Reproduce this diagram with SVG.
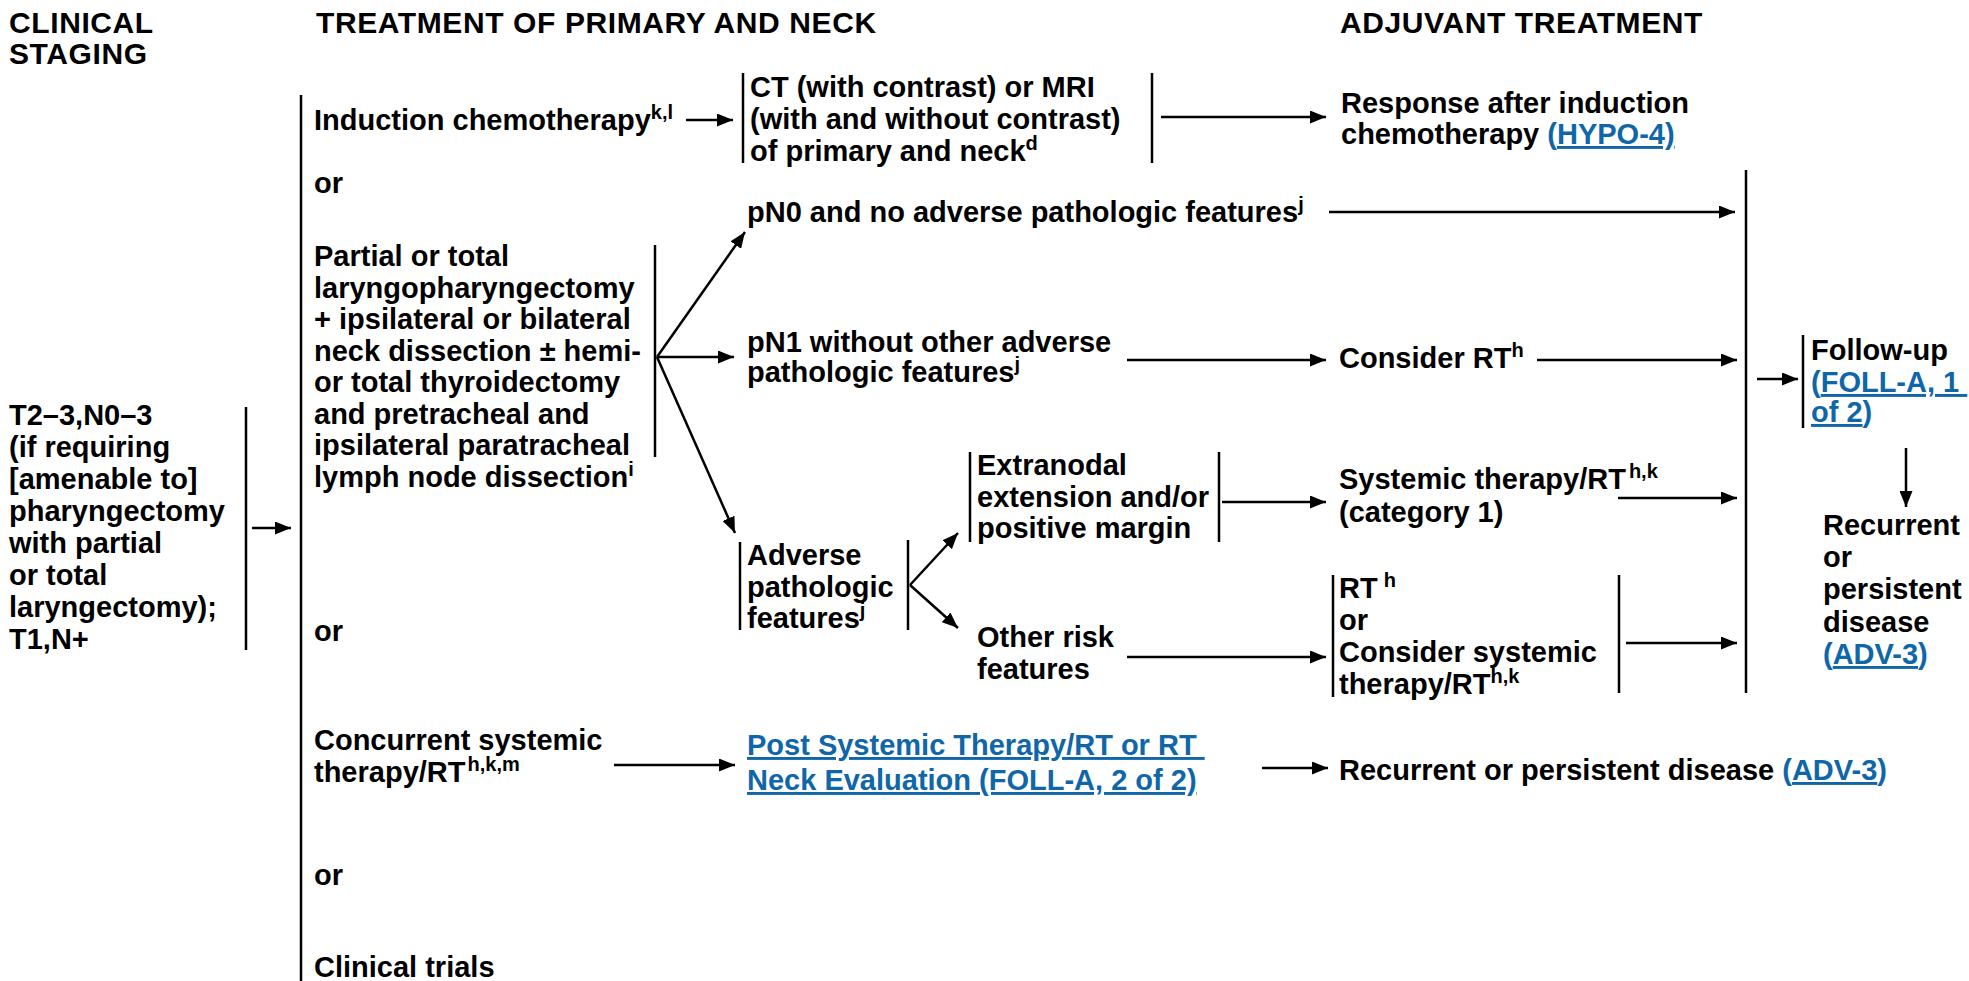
<svg xmlns="http://www.w3.org/2000/svg" width="1969" height="981" viewBox="0 0 1969 981">
<defs>
<style>
text{font-family:"Liberation Sans",Arial,Helvetica,sans-serif;font-weight:bold;font-size:29px;fill:#000}
.h{font-size:30px;letter-spacing:0.6px}
.s{font-size:20px}
.lnk{fill:#0f66a8}
.u{text-decoration:underline}
.bar{stroke:#000;stroke-width:2.5;fill:none}
.c{stroke:#000;stroke-width:2.5;fill:none;marker-end:url(#ah)}
</style>
<marker id="ah" markerUnits="userSpaceOnUse" markerWidth="16" markerHeight="13" refX="16" refY="6.5" orient="auto">
<path d="M0,0 L16,6.5 L0,13 z" fill="#000"/>
</marker>
</defs>
<rect width="1969" height="981" fill="#fff"/>

<g id="headers">
<text class="h" x="9" y="33">CLINICAL</text>
<text class="h" x="9" y="64">STAGING</text>
<text class="h" x="316" y="33">TREATMENT OF PRIMARY AND NECK</text>
<text class="h" x="1340" y="33">ADJUVANT TREATMENT</text>
</g>

<g id="staging">
<text x="9" y="425">T2–3,N0–3</text>
<text x="9" y="457">(if requiring</text>
<text x="9" y="489">[amenable to]</text>
<text x="9" y="521">pharyngectomy</text>
<text x="9" y="553">with partial</text>
<text x="9" y="585">or total</text>
<text x="9" y="617">laryngectomy);</text>
<text x="9" y="649">T1,N+</text>
<line class="bar" x1="246" y1="407" x2="246" y2="650"/>
</g>

<g id="options">
<line class="bar" x1="301" y1="95" x2="301" y2="981"/>
<text x="314" y="193">or</text>
<text x="314" y="641">or</text>
<text x="314" y="885">or</text>
</g>

<g id="induction">
<text x="314" y="130">Induction chemotherapy<tspan class="s" dy="-11">k,l</tspan></text>
</g>

<g id="ct-mri">
<line class="bar" x1="743" y1="73" x2="743" y2="163"/>
<text x="750" y="97">CT (with contrast) or MRI</text>
<text x="750" y="129">(with and without contrast)</text>
<text x="750" y="161">of primary and neck<tspan class="s" dy="-11">d</tspan></text>
<line class="bar" x1="1152" y1="73" x2="1152" y2="163"/>
</g>

<g id="response">
<text x="1341" y="113">Response after induction</text>
<text x="1341" y="144">chemotherapy <tspan class="lnk">(<tspan class="u">HYPO-4)</tspan></tspan></text>
</g>

<g id="surgery">
<text x="314" y="266">Partial or total</text>
<text x="314" y="297.5">laryngopharyngectomy</text>
<text x="314" y="329">+ ipsilateral or bilateral</text>
<text x="314" y="360.5">neck dissection ± hemi-</text>
<text x="314" y="392">or total thyroidectomy</text>
<text x="314" y="423.5">and pretracheal and</text>
<text x="314" y="455">ipsilateral paratracheal</text>
<text x="314" y="486.5">lymph node dissection<tspan class="s" dy="-11">i</tspan></text>
<line class="bar" x1="655" y1="245" x2="655" y2="457"/>
</g>

<g id="pn0">
<text x="747" y="222">pN0 and no adverse pathologic features<tspan class="s" dy="-11">j</tspan></text>
</g>

<g id="pn1">
<text x="747" y="352">pN1 without other adverse</text>
<text x="747" y="382">pathologic features<tspan class="s" dy="-11">j</tspan></text>
</g>

<g id="consider-rt">
<text x="1339" y="368">Consider RT<tspan class="s" dy="-11">h</tspan></text>
</g>

<g id="adverse">
<line class="bar" x1="740" y1="542" x2="740" y2="630"/>
<text x="747" y="565">Adverse</text>
<text x="747" y="597">pathologic</text>
<text x="747" y="628">features<tspan class="s" dy="-11">j</tspan></text>
<line class="bar" x1="908" y1="540" x2="908" y2="630"/>
</g>

<g id="extranodal">
<line class="bar" x1="970" y1="452" x2="970" y2="542"/>
<text x="977" y="475">Extranodal</text>
<text x="977" y="507">extension and/or</text>
<text x="977" y="538">positive margin</text>
<line class="bar" x1="1219" y1="452" x2="1219" y2="542"/>
</g>

<g id="systemic-rt">
<text x="1339" y="489">Systemic therapy/RT<tspan class="s" dx="3" dy="-11">h,k</tspan></text>
<text x="1339" y="522">(category 1)</text>
</g>

<g id="other-risk">
<text x="977" y="647">Other risk</text>
<text x="977" y="679">features</text>
</g>

<g id="rt-or-systemic">
<line class="bar" x1="1333" y1="575" x2="1333" y2="697"/>
<text x="1339" y="598">RT<tspan class="s" dx="6" dy="-11">h</tspan></text>
<text x="1339" y="630">or</text>
<text x="1339" y="662">Consider systemic</text>
<text x="1339" y="694">therapy/RT<tspan class="s" dy="-11">h,k</tspan></text>
<line class="bar" x1="1619" y1="575" x2="1619" y2="693"/>
</g>

<g id="merge">
<line class="bar" x1="1746" y1="170" x2="1746" y2="693"/>
</g>

<g id="follow-up">
<line class="bar" x1="1803" y1="335" x2="1803" y2="428"/>
<text x="1811" y="360">Follow-up</text>
<text x="1811" y="392" class="lnk" style="white-space:pre">(<tspan class="u">FOLL-A, 1 </tspan></text>
<text x="1811" y="422" class="lnk"><tspan class="u">of 2</tspan>)</text>
</g>

<g id="recurrent-1">
<text x="1823" y="535">Recurrent</text>
<text x="1823" y="567">or</text>
<text x="1823" y="599">persistent</text>
<text x="1823" y="632">disease</text>
<text x="1823" y="664" class="lnk">(<tspan class="u">ADV-3</tspan>)</text>
</g>

<g id="concurrent">
<text x="314" y="750">Concurrent systemic</text>
<text x="314" y="782">therapy/RT<tspan class="s" dx="2" dy="-11">h,k,m</tspan></text>
</g>

<g id="post-eval">
<text x="747" y="755" class="lnk u" style="white-space:pre">Post Systemic Therapy/RT or RT </text>
<text x="747" y="790" class="lnk u">Neck Evaluation (FOLL-A, 2 of 2)</text>
</g>

<g id="recurrent-2">
<text x="1339" y="780">Recurrent or persistent disease <tspan class="lnk">(<tspan class="u">ADV-3</tspan>)</tspan></text>
</g>

<g id="clinical-trials">
<text x="314" y="977">Clinical trials</text>
</g>

<g id="connectors">
<line class="c" x1="252" y1="528" x2="291" y2="528"/>
<line class="c" x1="686" y1="120" x2="733" y2="120"/>
<line class="c" x1="1161" y1="117" x2="1326" y2="117"/>
<line class="c" x1="657" y1="357" x2="745" y2="232"/>
<line class="c" x1="657" y1="357" x2="734" y2="357"/>
<line class="c" x1="657" y1="357" x2="735" y2="533"/>
<line class="c" x1="1329" y1="212" x2="1735" y2="212"/>
<line class="c" x1="1127" y1="360" x2="1326" y2="360"/>
<line class="c" x1="1537" y1="360" x2="1737" y2="360"/>
<line class="c" x1="910" y1="585" x2="958" y2="533"/>
<line class="c" x1="910" y1="585" x2="958" y2="628"/>
<line class="c" x1="1222" y1="502" x2="1326" y2="502"/>
<line class="c" x1="1618" y1="498" x2="1737" y2="498"/>
<line class="c" x1="1127" y1="657" x2="1326" y2="657"/>
<line class="c" x1="1626" y1="643" x2="1737" y2="643"/>
<line class="c" x1="1757" y1="379" x2="1798" y2="379"/>
<line class="c" x1="1906" y1="448" x2="1906" y2="507"/>
<line class="c" x1="614" y1="765" x2="735" y2="765"/>
<line class="c" x1="1262" y1="768" x2="1328" y2="768"/>
</g>
</svg>
